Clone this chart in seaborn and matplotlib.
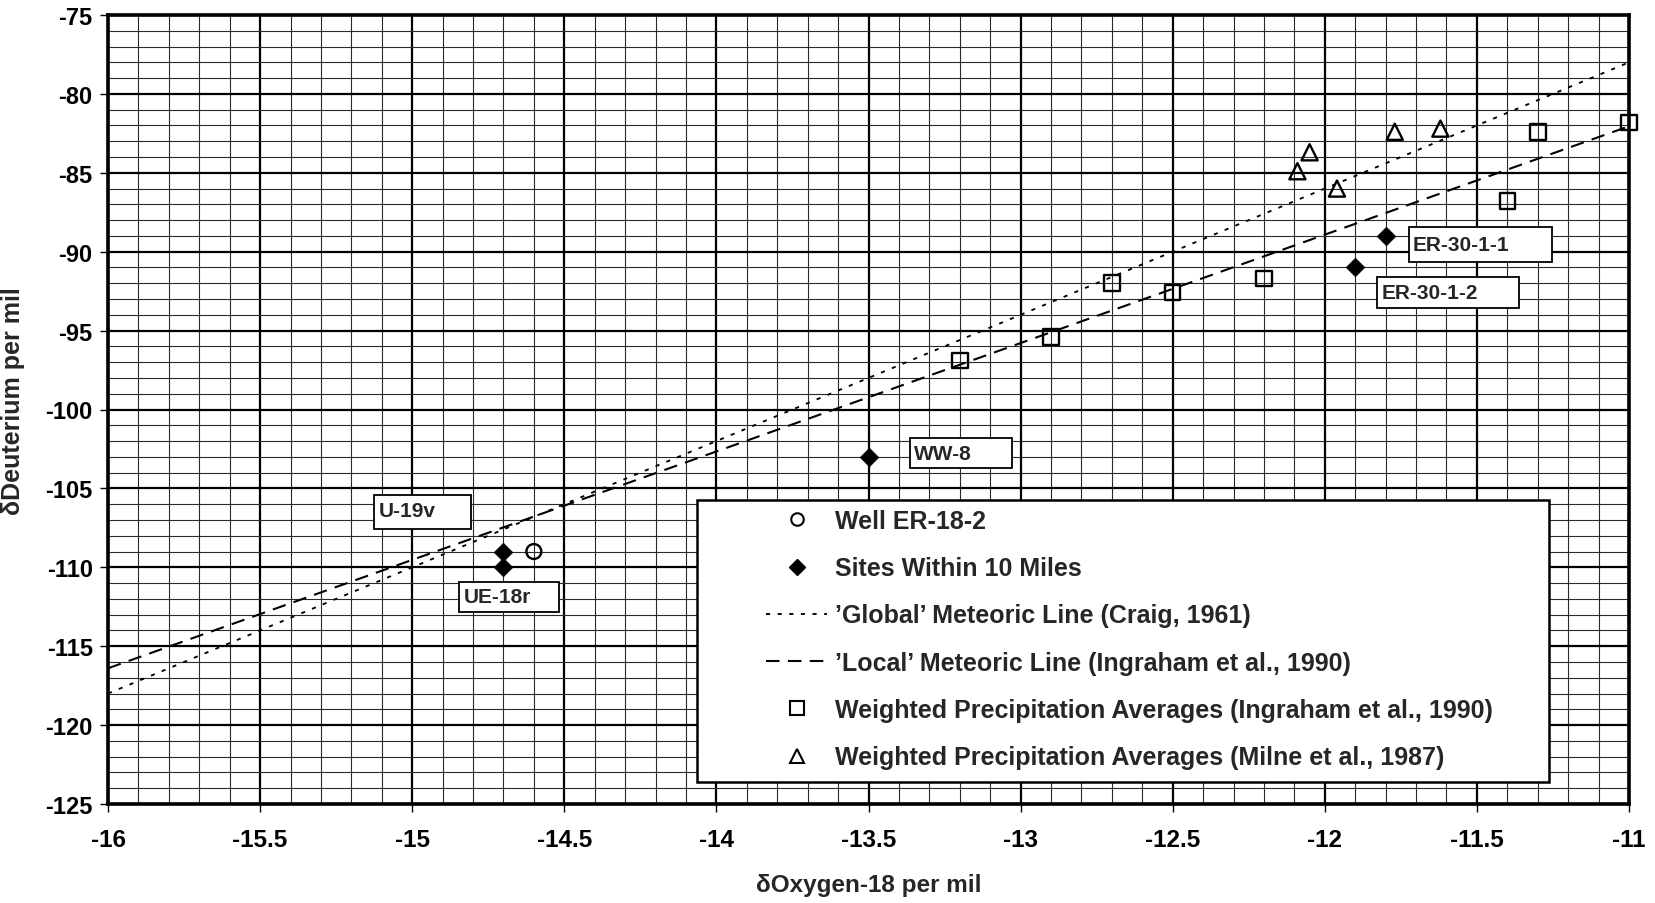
import numpy as np
import pandas as pd
import matplotlib
matplotlib.use("Agg")
import matplotlib.pyplot as plt
import seaborn as sns
from matplotlib.lines import Line2D
from matplotlib.patches import Rectangle
from matplotlib.ticker import MultipleLocator, FixedLocator, FixedFormatter

# ---------------- data ----------------
well_x = [-14.6]
well_y = [-109.0]

site_names = ["U-19v", "UE-18r", "WW-8", "ER-30-1-1", "ER-30-1-2"]
site_x = [-14.7, -14.7, -13.5, -11.8, -11.9]
site_y = [-109.0, -110.0, -103.0, -89.0, -91.0]

ingraham_x = [-13.2, -12.9, -12.7, -12.5, -12.2, -11.4, -11.3, -11.0]
ingraham_y = [-96.9, -95.4, -92.0, -92.6, -91.7, -86.8, -82.4, -81.8]

milne_x = [-12.09, -12.05, -11.96, -11.77, -11.62]
milne_y = [-84.9, -83.7, -86.0, -82.4, -82.2]

line_x = [-16.0, -11.0]
global_line_y = [-118.0, -78.0]
local_line_y = [-116.4, -82.05]

x_tick_values = [-16, -15.5, -15, -14.5, -14, -13.5, -13, -12.5, -12, -11.5, -11]
x_tick_labels = ["-16", "-15.5", "-15", "-14.5", "-14", "-13.5", "-13", "-12.5", "-12", "-11.5", "-11"]
y_tick_values = [-125, -120, -115, -110, -105, -100, -95, -90, -85, -80, -75]
y_tick_labels = ["-125", "-120", "-115", "-110", "-105", "-100", "-95", "-90", "-85", "-80", "-75"]

legend_labels = [
    "Well ER-18-2",
    "Sites Within 10 Miles",
    "\u2019Global\u2019 Meteoric Line (Craig, 1961)",
    "\u2019Local\u2019 Meteoric Line (Ingraham et al., 1990)",
    "Weighted Precipitation Averages (Ingraham et al., 1990)",
    "Weighted Precipitation Averages (Milne et al., 1987)",
]
x_label = "\u03b4Oxygen-18 per mil"
y_label = "\u03b4Deuterium per mil"

# ---------------- layout (axes fractions) ----------------
label_boxes = {  # name: (x0, y0, x1, y1, text_x, text_y)
    "U-19v": (0.1749, 0.3485, 0.2387, 0.3916, 0.1782, 0.3714),
    "UE-18r": (0.2310, 0.2430, 0.2967, 0.2817, 0.2341, 0.2624),
    "WW-8": (0.5273, 0.4255, 0.5941, 0.4635, 0.5299, 0.4445),
    "ER-30-1-1": (0.8554, 0.6873, 0.9492, 0.7309, 0.8580, 0.7091),
    "ER-30-1-2": (0.8341, 0.6283, 0.9279, 0.6683, 0.8374, 0.6483),
}
legend_box = (0.3872, 0.0279, 0.9474, 0.3853)

# ---------------- style ----------------
sns.set_style("white")
plt.rcParams["font.family"] = ["Liberation Sans", "DejaVu Sans"]
plt.rcParams["font.weight"] = "bold"

W, H = 1656, 904
fig = plt.figure(figsize=(W / 100, H / 100), dpi=100)
ax = fig.add_axes([108 / W, 1 - 805 / H, (1629 - 108) / W, (805 - 16) / H])

# lines
sns.lineplot(x=line_x, y=global_line_y, ax=ax, color="black", linewidth=1.35,
             linestyle=(0, (2.2, 4.0)), legend=False, zorder=3)
sns.lineplot(x=line_x, y=local_line_y, ax=ax, color="black", linewidth=1.5,
             linestyle=(0, (6.5, 4.0)), legend=False, zorder=3)

# points
def hollow(x, y, marker, s):
    sns.scatterplot(x=x, y=y, ax=ax, marker=marker, s=s, legend=False,
                    color="black", linewidth=1.7, zorder=5, clip_on=False)
    coll = ax.collections[-1]
    coll.set_facecolor("none")
    coll.set_edgecolor("black")
    coll.set_clip_on(False)

hollow(well_x, well_y, "o", 115)
hollow(ingraham_x, ingraham_y, "s", 125)
hollow(milne_x, milne_y, "^", 135)
sns.scatterplot(x=site_x, y=site_y, ax=ax, marker="D", s=90, color="black",
                edgecolor="black", linewidth=0.5, legend=False, zorder=5)

# axes
ax.set_xlim(-16, -11)
ax.set_ylim(-125, -75)
ax.xaxis.set_major_locator(FixedLocator(x_tick_values))
ax.xaxis.set_major_formatter(FixedFormatter(x_tick_labels))
ax.yaxis.set_major_locator(FixedLocator(y_tick_values))
ax.yaxis.set_major_formatter(FixedFormatter(y_tick_labels))
ax.xaxis.set_minor_locator(MultipleLocator(0.1))
ax.yaxis.set_minor_locator(MultipleLocator(1))
ax.set_axisbelow(True)
ax.grid(which="major", color="black", linewidth=1.6)
ax.grid(which="minor", color="#2a2a2a", linewidth=0.8)
for sp in ax.spines.values():
    sp.set_visible(True)
    sp.set_color("black")
    sp.set_linewidth(2.6)
    sp.set_zorder(6)
ax.tick_params(which="minor", length=0)
ax.tick_params(axis="x", which="major", length=6, width=1, direction="out",
               labelsize=17.5, pad=11, bottom=True, colors="black")
ax.tick_params(axis="y", which="major", length=6, width=1, direction="out",
               labelsize=17, pad=5, left=True, colors="black")
for lab in ax.get_xticklabels() + ax.get_yticklabels():
    lab.set_fontweight("bold")

ax.set_xlabel(x_label, fontsize=17.5, fontweight="bold", va="center")
ax.set_ylabel(y_label, fontsize=18, fontweight="bold", va="center")
ax.xaxis.set_label_coords(0.5, -0.1014)
ax.yaxis.set_label_coords(-0.0625, 0.512)

# label boxes
for name in site_names:
    x0, y0, x1, y1, tx, ty = label_boxes[name]
    ax.add_patch(Rectangle((x0, y0), x1 - x0, y1 - y0, transform=ax.transAxes,
                           facecolor="white", edgecolor="black", linewidth=1.3,
                           zorder=7))
    ax.text(tx, ty, name, transform=ax.transAxes, ha="left", va="center",
            fontsize=15, fontweight="bold", zorder=8)

# legend
lx0, ly0, lx1, ly1 = legend_box
ax.add_patch(Rectangle((lx0, ly0), lx1 - lx0, ly1 - ly0, transform=ax.transAxes,
                       facecolor="white", edgecolor="black", linewidth=1.8,
                       zorder=7))
handles = [
    Line2D([], [], linestyle="none", marker="o", markersize=9,
           markerfacecolor="none", markeredgecolor="black", markeredgewidth=1.5),
    Line2D([], [], linestyle="none", marker="D", markersize=8.5,
           markerfacecolor="black", markeredgecolor="black"),
    Line2D([], [], color="black", linewidth=1.35, linestyle=(0, (2.2, 4.0))),
    Line2D([], [], color="black", linewidth=1.5, linestyle=(0, (6.5, 4.0))),
    Line2D([], [], linestyle="none", marker="s", markersize=9.5,
           markerfacecolor="none", markeredgecolor="black", markeredgewidth=1.5),
    Line2D([], [], linestyle="none", marker="^", markersize=10,
           markerfacecolor="none", markeredgecolor="black", markeredgewidth=1.5),
]
leg = ax.legend(handles, legend_labels, loc="upper left",
                bbox_to_anchor=((766 - 108) / 1521, (805 - 510) / 789),
                frameon=False, borderpad=0, borderaxespad=0,
                handlelength=2.45, handletextpad=0.3, labelspacing=0.93,
                prop={"size": 18, "weight": "bold"})
leg.set_zorder(9)

fig.savefig("out.png", dpi=100)
